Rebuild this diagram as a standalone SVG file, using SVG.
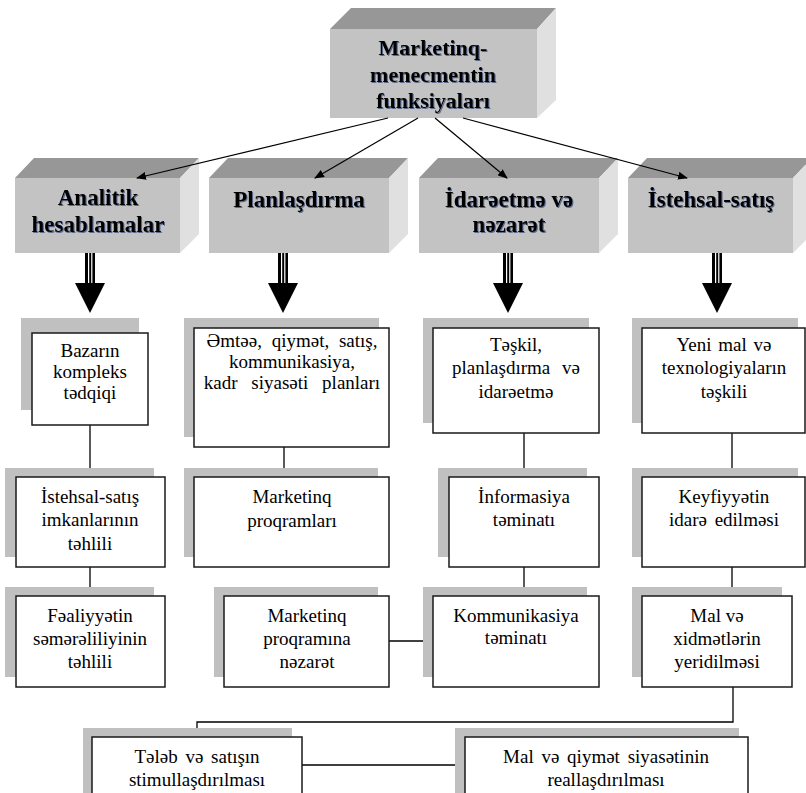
<svg xmlns="http://www.w3.org/2000/svg" width="806" height="793" viewBox="0 0 806 793">
  <defs>
    <style>
      .front { fill: #c3c3c3; }
      .top { fill: #979797; }
      .side { fill: #e0e0e0; }
      .shadow { fill: #c0c0c0; }
      .box { fill: #ffffff; stroke: #1a1a1a; stroke-width: 1.5; }
      .head { font-family: "Liberation Serif", "Times New Roman", serif; font-weight: bold; font-size: 23px; fill: #000; text-anchor: middle; filter: url(#glow); }
      .title { font-size: 22px; }
      .body { font-family: "Liberation Serif", "Times New Roman", serif; font-size: 19px; fill: #000; text-anchor: middle; }
      .link { stroke: #000; stroke-width: 1.3; fill: none; }
      .thin { stroke: #000; stroke-width: 1.2; fill: none; marker-end: url(#tip); }
    </style>
    <filter id="glow" x="-10%" y="-20%" width="120%" height="140%">
      <feDropShadow dx="1" dy="1" stdDeviation="0.7" flood-color="#3b4d7a" flood-opacity="0.75"/>
    </filter>
    <marker id="tip" markerUnits="userSpaceOnUse" markerWidth="10" markerHeight="8" refX="9" refY="4" orient="auto">
      <path d="M0,0 L10,4 L0,8 Z" fill="#000"/>
    </marker>
    <!-- heavy down arrow: striped shaft + solid head, drawn around x=0 -->
    <g id="bigArrow">
      <rect x="-5" y="0" width="10" height="31" fill="#000"/>
      <rect x="-2" y="0" width="1.2" height="31" fill="#fff"/>
      <rect x="1.2" y="0" width="1.2" height="31" fill="#fff"/>
      <path d="M-15,30 L15,30 L0,60 Z" fill="#000"/>
    </g>
  </defs>

  <rect width="806" height="793" fill="#ffffff"/>

  <!-- central 3D block -->
  <g id="node-root">
    <polygon class="top" points="330,29 351,8 556,8 537,29"/>
    <polygon class="side" points="537,29 556,8 556,100 537,118"/>
    <rect class="front" x="330" y="29" width="207" height="89"/>
    <text class="head title" x="433" y="55">Marketinq-</text>
    <text class="head title" x="433" y="82">menecmentin</text>
    <text class="head title" x="433" y="108">funksiyaları</text>
  </g>

  <!-- function blocks -->
  <g id="node-analitik">
    <polygon class="top" points="15,178 34,158 199,158 180,178"/>
    <polygon class="side" points="180,178 199,158 199,234 180,253"/>
    <rect class="front" x="15" y="178" width="165" height="75"/>
    <text class="head" x="98" y="205">Analitik</text>
    <text class="head" x="98" y="232">hesablamalar</text>
  </g>
  <g id="node-plan">
    <polygon class="top" points="209,178 228,158 408,158 389,178"/>
    <polygon class="side" points="389,178 408,158 408,234 389,253"/>
    <rect class="front" x="209" y="178" width="180" height="75"/>
    <text class="head" x="299" y="207">Planlaşdırma</text>
  </g>
  <g id="node-idare">
    <polygon class="top" points="419,178 438,158 618,158 599,178"/>
    <polygon class="side" points="599,178 618,158 618,234 599,253"/>
    <rect class="front" x="419" y="178" width="180" height="75"/>
    <text class="head" x="509" y="207">İdarəetmə və</text>
    <text class="head" x="509" y="232">nəzarət</text>
  </g>
  <g id="node-istehsal">
    <polygon class="top" points="628,178 647,158 812,158 793,178"/>
    <polygon class="side" points="793,178 812,158 812,234 793,253"/>
    <rect class="front" x="628" y="178" width="165" height="75"/>
    <text class="head" x="711" y="207">İstehsal-satış</text>
  </g>

  <!-- connectors -->
  <g id="connectors">
    <line class="thin" x1="388" y1="118" x2="137" y2="178"/>
    <line class="thin" x1="418" y1="118" x2="315" y2="178"/>
    <line class="thin" x1="435" y1="118" x2="507" y2="178"/>
    <line class="thin" x1="463" y1="118" x2="687" y2="178"/>

    <use href="#bigArrow" x="90" y="253"/>
    <use href="#bigArrow" x="283" y="253"/>
    <use href="#bigArrow" x="508" y="253"/>
    <use href="#bigArrow" x="717" y="253"/>

    <line class="link" x1="90" y1="425" x2="90" y2="477"/>
    <line class="link" x1="90" y1="567" x2="90" y2="596"/>
    <line class="link" x1="284" y1="447" x2="284" y2="477"/>
    <line class="link" x1="524" y1="433" x2="524" y2="477"/>
    <line class="link" x1="524" y1="567" x2="524" y2="596"/>
    <line class="link" x1="732" y1="433" x2="732" y2="477"/>
    <line class="link" x1="732" y1="567" x2="732" y2="596"/>
    <line class="link" x1="389" y1="641" x2="433" y2="641"/>
    <polyline class="link" points="733,687 733,722 197,722 197,737"/>
    <line class="link" x1="302" y1="765" x2="465" y2="765"/>
  </g>

  <!-- row 1 -->
  <g id="node-bazar">
    <rect class="shadow" x="21" y="318" width="118" height="92"/>
    <rect class="box" x="32" y="333" width="116" height="92"/>
    <text class="body" x="90" y="357">Bazarın</text>
    <text class="body" x="90" y="378">kompleks</text>
    <text class="body" x="90" y="399">tədqiqi</text>
  </g>
  <g id="node-planlar">
    <rect class="shadow" x="184" y="318" width="195" height="119"/>
    <rect class="box" x="194" y="328" width="195" height="119"/>
    <text class="body" x="292" y="347" word-spacing="5">Əmtəə, qiymət, satış,</text>
    <text class="body" x="292" y="368">kommunikasiya,</text>
    <text class="body" x="292" y="389" word-spacing="9">kadr siyasəti planları</text>
  </g>
  <g id="node-teskil">
    <rect class="shadow" x="423" y="318" width="166" height="105"/>
    <rect class="box" x="433" y="328" width="166" height="105"/>
    <text class="body" x="516" y="351">Təşkil,</text>
    <text class="body" x="516" y="374" word-spacing="7">planlaşdırma və</text>
    <text class="body" x="516" y="398">idarəetmə</text>
  </g>
  <g id="node-yeni">
    <rect class="shadow" x="632" y="318" width="166" height="105"/>
    <rect class="box" x="642" y="328" width="163" height="105"/>
    <text class="body" x="724" y="351" word-spacing="2">Yeni mal və</text>
    <text class="body" x="724" y="374">texnologiyaların</text>
    <text class="body" x="724" y="398">təşkili</text>
  </g>

  <!-- row 2 -->
  <g id="node-imkan">
    <rect class="shadow" x="5" y="468" width="149" height="89"/>
    <rect class="box" x="16" y="477" width="149" height="90"/>
    <text class="body" x="90" y="503">İstehsal-satış</text>
    <text class="body" x="90" y="526">imkanlarının</text>
    <text class="body" x="90" y="550">təhlili</text>
  </g>
  <g id="node-proqram">
    <rect class="shadow" x="184" y="468" width="194" height="89"/>
    <rect class="box" x="194" y="477" width="195" height="90"/>
    <text class="body" x="292" y="503">Marketinq</text>
    <text class="body" x="292" y="527">proqramları</text>
  </g>
  <g id="node-informasiya">
    <rect class="shadow" x="438" y="468" width="149" height="89"/>
    <rect class="box" x="449" y="477" width="150" height="90"/>
    <text class="body" x="524" y="503">İnformasiya</text>
    <text class="body" x="524" y="526">təminatı</text>
  </g>
  <g id="node-keyfiyyet">
    <rect class="shadow" x="632" y="468" width="166" height="89"/>
    <rect class="box" x="642" y="477" width="163" height="90"/>
    <text class="body" x="724" y="503">Keyfiyyətin</text>
    <text class="body" x="724" y="526" word-spacing="3">idarə edilməsi</text>
  </g>

  <!-- row 3 -->
  <g id="node-semere">
    <rect class="shadow" x="5" y="587" width="149" height="90"/>
    <rect class="box" x="16" y="596" width="149" height="91"/>
    <text class="body" x="90" y="622">Fəaliyyətin</text>
    <text class="body" x="90" y="645">səmərəliliyinin</text>
    <text class="body" x="90" y="668">təhlili</text>
  </g>
  <g id="node-nezaret">
    <rect class="shadow" x="214" y="587" width="164" height="90"/>
    <rect class="box" x="224" y="596" width="165" height="91"/>
    <text class="body" x="307" y="622">Marketinq</text>
    <text class="body" x="307" y="645">proqramına</text>
    <text class="body" x="307" y="668">nəzarət</text>
  </g>
  <g id="node-kommunikasiya">
    <rect class="shadow" x="423" y="587" width="164" height="90"/>
    <rect class="box" x="433" y="596" width="166" height="91"/>
    <text class="body" x="516" y="622">Kommunikasiya</text>
    <text class="body" x="516" y="644">təminatı</text>
  </g>
  <g id="node-yeridilme">
    <rect class="shadow" x="632" y="587" width="150" height="90"/>
    <rect class="box" x="642" y="596" width="150" height="91"/>
    <text class="body" x="717" y="622">Mal və</text>
    <text class="body" x="717" y="645">xidmətlərin</text>
    <text class="body" x="717" y="668">yeridilməsi</text>
  </g>

  <!-- row 4 -->
  <g id="node-stimul">
    <rect class="shadow" x="83" y="728" width="209" height="80"/>
    <rect class="box" x="92" y="737" width="210" height="80"/>
    <text class="body" x="197" y="763" word-spacing="3">Tələb və satışın</text>
    <text class="body" x="197" y="786">stimullaşdırılması</text>
  </g>
  <g id="node-siyaset">
    <rect class="shadow" x="455" y="728" width="284" height="80"/>
    <rect class="box" x="465" y="737" width="283" height="80"/>
    <text class="body" x="606" y="763" word-spacing="3">Mal və qiymət siyasətinin</text>
    <text class="body" x="606" y="786">reallaşdırılması</text>
  </g>
</svg>
